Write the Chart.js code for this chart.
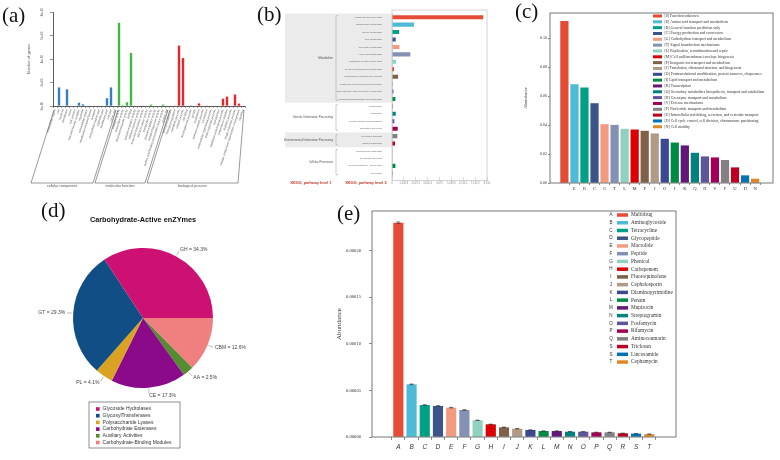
<!DOCTYPE html>
<html lang="en">
<head>
<meta charset="utf-8">
<title>Functional annotation panels</title>
<script src="https://cdn.jsdelivr.net/npm/chart.js@4.4.1/dist/chart.umd.min.js"></script>
<style>
  body { margin: 0; background: #fff; }
  #page { position: relative; width: 780px; height: 460px; overflow: hidden; background: #fff; }
  .panel { position: absolute; }
  .tag { position: absolute; font: 21px "Liberation Serif", serif; line-height: 1; color: #111; }
</style>
</head>
<body>
<div id="page">
  <div class="panel" style="left:0;top:0;width:252px;height:200px"><canvas id="goChart"></canvas></div>
  <div class="panel" style="left:250px;top:0;width:250px;height:200px"><canvas id="keggChart"></canvas></div>
  <div class="panel" style="left:510px;top:0;width:270px;height:200px"><canvas id="cogChart"></canvas></div>
  <div class="panel" style="left:0;top:200px;width:260px;height:260px"><canvas id="cazyChart"></canvas></div>
  <div class="panel" style="left:330px;top:200px;width:350px;height:260px"><canvas id="argChart"></canvas></div>
  <div class="tag" style="left:2px;top:5px">(a)</div>
  <div class="tag" style="left:257px;top:4px">(b)</div>
  <div class="tag" style="left:515px;top:1px">(c)</div>
  <div class="tag" style="left:41px;top:200px">(d)</div>
  <div class="tag" style="left:337px;top:203px">(e)</div>
</div>
<script>
// (a) GO level 2
const goTerms = [
  'extracellular region', 'cell', 'nucleoid', 'membrane', 'virion', 'cell junction',
  'macromolecular complex', 'organelle', 'extracellular matrix', 'membrane-enclosed lumen',
  'synapse', 'extracellular region part', 'organelle part', 'membrane part', 'cell part', 'virion part',
  'catalytic activity', 'antioxidant activity', 'structural molecule activity', 'binding',
  'enzyme regulator activity', 'nutrient reservoir activity', 'molecular transducer activity',
  'electron carrier activity', 'transporter activity', 'channel regulator activity',
  'metallochaperone activity', 'nucleic acid binding transcription factor activity', 'protein tag',
  'biological adhesion', 'biological regulation', 'metabolic process', 'cellular process',
  'cell killing', 'developmental process', 'growth', 'localization', 'immune system process',
  'locomotion', 'multicellular organismal process', 'multi-organism process', 'reproduction',
  'regulation of biological process', 'response to stimulus', 'rhythmic process',
  'single-organism process', 'cellular component organization or biogenesis', 'signaling'
];
const goCounts = [
  0, 158000, 0, 142000, 0, 0, 28000, 14000, 0, 0, 0, 2000, 0, 66000, 158000, 0,
  708000, 6000, 32000, 452000, 1000, 0, 600, 0, 12000, 0, 0, 12000, 0,
  0, 1000, 514000, 408000, 0, 600, 0, 22000, 0, 1000, 0, 0, 0, 62000, 80000, 0, 98000, 20000, 0
];
const goGroupNames = ['cellular component', 'molecular function', 'biological process'];
const goGroupStart = [0, 16, 29];
const goGroupEnd = [15, 28, 47];
const goGroupColors = ['#3a7ec2', '#44b649', '#e5272b'];

// (b) KEGG
const keggLevel2 = [
  'Global and overview maps', 'Carbohydrate metabolism', 'Energy metabolism', 'Lipid metabolism',
  'Nucleotide metabolism', 'Amino acid metabolism', 'Metabolism of other amino acids',
  'Glycan biosynthesis and metabolism', 'Metabolism of cofactors and vitamins',
  'Metabolism of terpenoids and polyketides', 'Biosynthesis of other secondary metabolites',
  'Xenobiotics biodegradation and metabolism', 'Transcription', 'Translation',
  'Folding, sorting and degradation', 'Replication and repair', 'Membrane transport',
  'Signal transduction', 'Transport and catabolism', 'Cell growth and death',
  'Cellular community - prokaryotes', 'Cell motility'
];
const keggValues = [7830, 1880, 610, 320, 640, 1570, 350, 150, 520, 90, 120, 290, 60, 320, 200, 490, 460, 260, 15, 15, 290, 60];
const keggColors = ['#e64b35', '#4dbbd5', '#00a087', '#3c5488', '#f39b7f', '#8491b4', '#91d1c2', '#dc0000',
  '#7e6148', '#b09c85', '#3b4992', '#008b45', '#631879', '#008280', '#5f559b', '#a20056', '#808180',
  '#bb0021', '#1b1919', '#ee0000', '#008b45', '#0072b5'];
const keggLevel1 = ['Metabolism', 'Genetic Information Processing', 'Environmental Information Processing', 'Cellular Processes'];
const keggL1Start = [0, 12, 16, 18];
const keggL1End = [11, 15, 17, 21];
const keggL1Shaded = [true, false, true, false];

// (c) COG
const cogCodes = ['S', 'E', 'R', 'C', 'G', 'T', 'L', 'M', 'P', 'J', 'O', 'I', 'K', 'Q', 'H', 'V', 'F', 'U', 'D', 'N'];
const cogNames = [
  '[S] Function unknown', '[E] Amino acid transport and metabolism', '[R] General function prediction only',
  '[C] Energy production and conversion', '[G] Carbohydrate transport and metabolism',
  '[T] Signal transduction mechanisms', '[L] Replication, recombination and repair',
  '[M] Cell wall/membrane/envelope biogenesis', '[P] Inorganic ion transport and metabolism',
  '[J] Translation, ribosomal structure and biogenesis',
  '[O] Posttranslational modification, protein turnover, chaperones', '[I] Lipid transport and metabolism',
  '[K] Transcription', '[Q] Secondary metabolites biosynthesis, transport and catabolism',
  '[H] Coenzyme transport and metabolism', '[V] Defense mechanisms', '[F] Nucleotide transport and metabolism',
  '[U] Intracellular trafficking, secretion, and vesicular transport',
  '[D] Cell cycle control, cell division, chromosome partitioning', '[N] Cell motility'
];
const cogValues = [0.112, 0.0683, 0.066, 0.0552, 0.0407, 0.0402, 0.0375, 0.037, 0.0361, 0.0343,
  0.0306, 0.028, 0.026, 0.0209, 0.0184, 0.0177, 0.0159, 0.0108, 0.0053, 0.003];

// (d) CAZy
const cazyCodes = ['GH', 'GT', 'PL', 'CE', 'AA', 'CBM'];
const cazyNames = ['Glycoside Hydrolases', 'GlycosylTransferases', 'Polysaccharide Lyases',
  'Carbohydrate Esterases', 'Auxiliary Activities', 'Carbohydrate-Binding Modules'];
const cazyPercent = [34.3, 29.3, 4.1, 17.3, 2.5, 12.6];
const cazyColors = ['#cc1173', '#124e86', '#d9a223', '#8a0a8a', '#548b33', '#f08080'];

// (e) ARG classes
const argCodes = ['A', 'B', 'C', 'D', 'E', 'F', 'G', 'H', 'I', 'J', 'K', 'L', 'M', 'N', 'O', 'P', 'Q', 'R', 'S', 'T'];
const argLegendKeys = ['A', 'B', 'C', 'D', 'E', 'F', 'G', 'H', 'I', 'J', 'K', 'L', 'M', 'N', 'O', 'P', 'Q', 'S', 'S', 'T'];
const argNames = ['Multidrug', 'Aminoglycoside', 'Tetracycline', 'Glycopeptide', 'Macrolide', 'Peptide',
  'Phenicol', 'Carbapenem', 'Fluoroquinolone', 'Cephalosporin', 'Diaminopyrimidine', 'Penam', 'Mupirocin',
  'Streptogramin', 'Fosfomycin', 'Rifamycin', 'Aminocoumarin', 'Triclosan', 'Lincosamide', 'Cephamycin'];
const argValues = [0.000230, 0.0000565, 0.0000343, 0.0000333, 0.0000315, 0.0000290, 0.0000179, 0.0000136,
  0.0000104, 0.0000089, 0.0000075, 0.0000064, 0.0000064, 0.0000057, 0.0000057, 0.0000050, 0.0000050,
  0.0000040, 0.0000036, 0.0000030];
const argErrors = [0.0000008, 0.0000004, 0.0000003, 0.0000003, 0.0000003, 0.0000003, 0.0000002, 0.0000002,
  0.0000002, 0.0000002, 0.0000001, 0.0000001, 0.0000001, 0.0000001, 0.0000001, 0.0000001, 0.0000001,
  0.0000001, 0.0000001, 0.0000001];

const npg = ['#e64b35', '#4dbbd5', '#00a087', '#3c5488', '#f39b7f', '#8491b4', '#91d1c2', '#dc0000',
  '#7e6148', '#b09c85', '#3b4992', '#008b45', '#631879', '#008280', '#5f559b', '#a20056', '#808180',
  '#bb0021', '#0072b5', '#e18727'];

Chart.defaults.font.family = '"Liberation Serif", serif';
Chart.defaults.color = '#333';
Chart.defaults.animation = false;
Chart.defaults.responsive = true;
Chart.defaults.maintainAspectRatio = false;
Chart.defaults.plugins.legend.display = false;
Chart.defaults.plugins.tooltip.enabled = false;

function fixWidth(w) {
  return function (s) { s.width = w; s.paddingTop = 0; s.paddingBottom = 0; };
}
function fixHeight(h) {
  return function (s) { s.height = h; s.paddingLeft = 0; s.paddingRight = 0; };
}
function keepTicks(lo, hi) {
  return function (s) { s.ticks = s.ticks.filter(t => t.value >= lo && t.value <= hi); };
}

function framePlugin(color, expand) {
  return {
    id: 'frame',
    afterDraw(chart) {
      const a = chart.chartArea, c = chart.ctx;
      c.save();
      c.strokeStyle = color;
      c.lineWidth = 0.8;
      c.strokeRect(a.left, a.top - expand, a.right - a.left, a.bottom - a.top + 2 * expand);
      c.restore();
    }
  };
}

function listLegend(o) {
  return {
    id: 'listLegend',
    afterDraw(chart) {
      const c = chart.ctx;
      c.save();
      c.textBaseline = 'middle';
      if (o.box) {
        c.strokeStyle = '#444';
        c.lineWidth = 0.6;
        c.strokeRect(o.box[0], o.box[1], o.box[2], o.box[3]);
      }
      o.texts.forEach((t, i) => {
        const y = o.y + i * o.step;
        if (o.keys) {
          c.font = o.keyFont;
          c.fillStyle = '#333';
          c.textAlign = 'center';
          c.fillText(o.keys[i], o.keyX, y);
        }
        c.fillStyle = o.colors[i];
        c.fillRect(o.x, y - o.swH / 2, o.swW, o.swH);
        c.font = o.font;
        c.fillStyle = '#333';
        c.textAlign = 'left';
        c.fillText(t, o.x + o.swW + o.gap, y);
      });
      c.restore();
    }
  };
}

// ---------- (a)
const goGroupPlugin = {
  id: 'goGroups',
  afterDraw(chart) {
    const x = chart.scales.x, c = chart.ctx;
    const top = chart.chartArea.bottom + 4, bot = chart.chartArea.bottom + 77, slant = 23;
    const half = (x.getPixelForValue(1) - x.getPixelForValue(0)) / 2;
    c.save();
    c.strokeStyle = '#555';
    c.lineWidth = 0.6;
    c.fillStyle = '#555';
    c.font = '3.6px "Liberation Sans"';
    c.textAlign = 'center';
    c.textBaseline = 'top';
    goGroupNames.forEach((name, g) => {
      const x0 = x.getPixelForValue(goGroupStart[g]) - half + 1;
      const x1 = x.getPixelForValue(goGroupEnd[g]) + half - 1;
      const s1 = g === goGroupNames.length - 1 ? 6 : slant;
      c.beginPath();
      c.moveTo(x0, top);
      c.lineTo(x0 - slant, bot);
      c.lineTo(x1 - s1, bot);
      c.lineTo(x1, top);
      c.stroke();
      c.fillText(name, (x0 - slant + x1 - s1) / 2, bot + 0.8);
    });
    c.restore();
  }
};

new Chart(document.getElementById('goChart'), {
  type: 'bar',
  data: {
    labels: goTerms,
    datasets: [{
      data: goCounts,
      backgroundColor: goTerms.map((t, i) => goGroupColors[goGroupEnd.findIndex(e => i <= e)]),
      categoryPercentage: 1,
      barPercentage: 0.6
    }]
  },
  options: {
    layout: { padding: { left: 24, right: 7, top: 12, bottom: 0 } },
    scales: {
      x: {
        grid: { display: true, drawOnChartArea: false, tickLength: 2, color: '#444', lineWidth: 0.5 },
        border: { color: '#333', width: 0.8 },
        ticks: { autoSkip: false, minRotation: 72, maxRotation: 72, padding: 1, color: '#555',
          font: { size: 2.9, family: '"Liberation Sans"' } },
        afterFit: fixHeight(94)
      },
      y: {
        min: 0, max: 800000,
        ticks: {
          stepSize: 200000, minRotation: 90, maxRotation: 90, crossAlign: 'center', padding: 4,
          color: '#555', font: { size: 3, family: '"Liberation Sans"' },
          callback: v => v.toExponential(0).replace(/e\+(\d)$/, 'e+0$1')
        },
        grid: { display: true, drawOnChartArea: false, tickLength: 3, color: '#444', lineWidth: 0.6 },
        border: { color: '#333', width: 0.8 },
        title: { display: true, text: 'Number of genes', color: '#555', padding: 2,
          font: { size: 4, family: '"Liberation Sans"' } },
        afterFit: fixWidth(29)
      }
    }
  },
  plugins: [goGroupPlugin]
});

// ---------- (b)
const keggPlugin = {
  id: 'keggGroups',
  beforeDraw(chart) {
    const y = chart.scales.y, c = chart.ctx;
    const half = (y.getPixelForValue(1) - y.getPixelForValue(0)) / 2;
    c.save();
    c.fillStyle = '#ebebeb';
    keggLevel1.forEach((n, g) => {
      if (!keggL1Shaded[g]) return;
      const t = y.getPixelForValue(keggL1Start[g]) - half;
      const b = y.getPixelForValue(keggL1End[g]) + half;
      c.fillRect(35, t, chart.chartArea.left - 35, b - t);
    });
    c.restore();
  },
  afterDraw(chart) {
    const y = chart.scales.y, c = chart.ctx;
    c.save();
    c.strokeStyle = '#aaa';
    c.lineWidth = 0.6;
    c.fillStyle = '#555';
    c.font = '2.9px "Liberation Sans"';
    c.textAlign = 'right';
    c.textBaseline = 'middle';
    keggLevel1.forEach((n, g) => {
      const t = y.getPixelForValue(keggL1Start[g]) - 1.5;
      const b = y.getPixelForValue(keggL1End[g]) + 1.5;
      c.beginPath();
      c.moveTo(88, t); c.lineTo(86, t); c.lineTo(86, b); c.lineTo(88, b);
      c.stroke();
      c.fillText(n, 83, (t + b) / 2);
    });
    c.fillStyle = '#c0392b';
    c.font = 'bold 3.8px "Liberation Sans"';
    c.textAlign = 'center';
    c.fillText('KEGG_pathway level 1', 61, chart.chartArea.bottom + 6);
    c.fillText('KEGG_pathway level 2', 116, chart.chartArea.bottom + 6);
    c.restore();
  }
};

new Chart(document.getElementById('keggChart'), {
  type: 'bar',
  data: {
    labels: keggLevel2,
    datasets: [{ data: keggValues, backgroundColor: keggColors, categoryPercentage: 1, barPercentage: 0.55 }]
  },
  options: {
    indexAxis: 'y',
    layout: { padding: { left: 0, right: 13, top: 13.5, bottom: 0 } },
    scales: {
      x: {
        min: 0, max: 8150,
        ticks: { stepSize: 1000, includeBounds: false, autoSkip: false, minRotation: 0, maxRotation: 0,
          padding: 1, color: '#888', font: { size: 2.6, family: '"Liberation Sans"' } },
        grid: { display: true, drawOnChartArea: false, tickLength: 4, color: '#bbb', lineWidth: 0.5 },
        border: { display: false },
        afterFit: fixHeight(23)
      },
      y: {
        ticks: { autoSkip: false, padding: 2, color: '#666', font: { size: 2.3, family: '"Liberation Sans"' } },
        grid: { display: false },
        border: { color: '#bbb', width: 0.6 },
        afterFit: fixWidth(142)
      }
    }
  },
  plugins: [keggPlugin, framePlugin('#c8c8c8', 3.5)]
});

// ---------- (c)
new Chart(document.getElementById('cogChart'), {
  type: 'bar',
  data: {
    datasets: [{
      data: cogValues.map((v, i) => ({ x: i, y: v })),
      backgroundColor: npg,
      categoryPercentage: 1,
      barPercentage: 0.82
    }]
  },
  options: {
    layout: { padding: { left: 11, right: 7, top: 13, bottom: 0 } },
    scales: {
      x: {
        type: 'linear', min: -0.85, max: 20.2,
        afterBuildTicks: keepTicks(0, cogCodes.length - 1),
        ticks: { stepSize: 1, padding: 1, color: '#333', font: { size: 4.6 }, callback: v => cogCodes[v] },
        grid: { display: true, drawOnChartArea: false, tickLength: 2, color: '#444', lineWidth: 0.6 },
        border: { display: false },
        afterFit: fixHeight(17)
      },
      y: {
        min: 0, max: 0.1176,
        ticks: { stepSize: 0.02, includeBounds: false, padding: 1, color: '#333', font: { size: 4 },
          callback: v => v.toFixed(2) },
        grid: { display: true, drawOnChartArea: false, tickLength: 2, color: '#444', lineWidth: 0.6 },
        border: { display: false },
        title: { display: true, text: 'Abundance', padding: 2, color: '#333', font: { size: 4.8 } },
        afterFit: fixWidth(29)
      }
    }
  },
  plugins: [framePlugin('#555', 0), listLegend({
    texts: cogNames, colors: npg, x: 143, y: 16, step: 5.83, swW: 9, swH: 3, gap: 2.5,
    font: '3.8px "Liberation Serif"'
  })]
});

// ---------- (d)
const pieLabelPlugin = {
  id: 'pieLabels',
  afterDraw(chart) {
    const c = chart.ctx, arcs = chart.getDatasetMeta(0).data;
    const codes = chart.data.labels, vals = chart.data.datasets[0].data;
    c.save();
    c.fillStyle = '#111';
    c.font = 'bold 7.3px "Liberation Sans"';
    c.textAlign = 'center';
    c.textBaseline = 'middle';
    c.fillText('Carbohydrate-Active enZYmes', arcs[0].x, 20);
    c.font = '5px "Liberation Sans"';
    c.fillStyle = '#444';
    c.strokeStyle = '#777';
    c.lineWidth = 0.5;
    arcs.forEach((a, i) => {
      const mid = (a.startAngle + a.endAngle) / 2, r = a.outerRadius;
      const cs = Math.cos(mid), sn = Math.sin(mid);
      c.beginPath();
      c.moveTo(a.x + cs * (r + 1), a.y + sn * (r + 1));
      c.lineTo(a.x + cs * (r + 6), a.y + sn * (r + 6));
      c.stroke();
      c.textAlign = cs >= 0 ? 'left' : 'right';
      c.fillText(codes[i] + ' = ' + vals[i].toFixed(1) + '%', a.x + cs * (r + 8), a.y + sn * (r + 8));
    });
    c.restore();
  }
};

new Chart(document.getElementById('cazyChart'), {
  type: 'pie',
  data: {
    labels: cazyCodes.slice().reverse(),
    datasets: [{
      data: cazyPercent.slice().reverse(),
      backgroundColor: cazyColors.slice().reverse(),
      borderWidth: 0
    }]
  },
  options: {
    rotation: 90,
    layout: { padding: { left: 73, right: 47, top: 48, bottom: 72 } }
  },
  plugins: [pieLabelPlugin, listLegend({
    texts: cazyNames, colors: cazyColors, x: 96, y: 209, step: 6.7, swW: 3.6, swH: 3.6, gap: 3,
    font: '5px "Liberation Sans"', box: [89, 202, 91, 46]
  })]
});

// ---------- (e)
const errorBarPlugin = {
  id: 'errorBars',
  afterDatasetsDraw(chart) {
    const xs = chart.scales.x, ys = chart.scales.y, c = chart.ctx;
    c.save();
    c.strokeStyle = '#333';
    c.lineWidth = 0.6;
    argValues.forEach((v, i) => {
      const x = xs.getPixelForValue(i);
      const t = ys.getPixelForValue(v + argErrors[i]), b = ys.getPixelForValue(v - argErrors[i]);
      c.beginPath();
      c.moveTo(x, t); c.lineTo(x, b);
      c.moveTo(x - 2, t); c.lineTo(x + 2, t);
      c.moveTo(x - 2, b); c.lineTo(x + 2, b);
      c.stroke();
    });
    c.restore();
  }
};

new Chart(document.getElementById('argChart'), {
  type: 'bar',
  data: {
    datasets: [{
      data: argValues.map((v, i) => ({ x: i, y: v })),
      backgroundColor: npg,
      categoryPercentage: 1,
      barPercentage: 0.77
    }]
  },
  options: {
    layout: { padding: { left: 3, right: 4, top: 11, bottom: 0 } },
    scales: {
      x: {
        type: 'linear', min: -1.42, max: 20.45,
        afterBuildTicks: keepTicks(0, argCodes.length - 1),
        ticks: { stepSize: 1, padding: 3, color: '#333',
          font: { size: 6.5, style: 'italic', family: '"Liberation Sans"' }, callback: v => argCodes[v] },
        grid: { display: true, drawOnChartArea: false, tickLength: 3, color: '#444', lineWidth: 0.6 },
        border: { display: false },
        afterFit: fixHeight(23)
      },
      y: {
        min: 0, max: 0.0002425,
        ticks: { stepSize: 0.00005, includeBounds: false, padding: 8, color: '#333', font: { size: 4.6 },
          callback: v => v.toFixed(5) },
        grid: { display: true, drawOnChartArea: false, tickLength: 3, color: '#444', lineWidth: 0.6 },
        border: { display: false },
        title: { display: true, text: 'Abundance', padding: 2, color: '#333', font: { size: 7 } },
        afterFit: fixWidth(39)
      }
    }
  },
  plugins: [errorBarPlugin, framePlugin('#555', 0), listLegend({
    texts: argNames, colors: npg, keys: argLegendKeys, keyX: 281, keyFont: '4.6px "Liberation Sans"',
    x: 287, y: 15, step: 7.74, swW: 11, swH: 3.5, gap: 3, font: '5.3px "Liberation Serif"'
  })]
});
</script>
</body>
</html>
